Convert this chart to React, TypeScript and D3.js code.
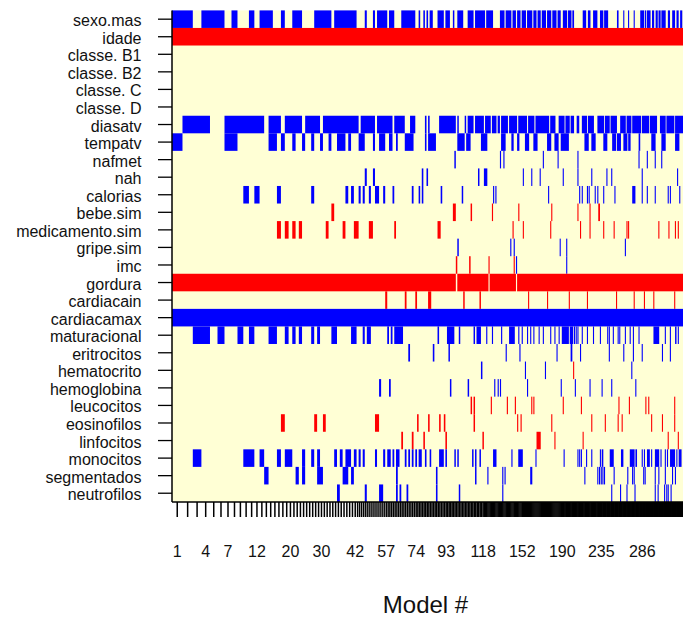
import React from 'react';
import * as d3 from 'd3';

// variables in the order they appear (top to bottom)
const variables = [
  'sexo.mas', 'idade', 'classe. B1', 'classe. B2', 'classe. C', 'classe. D',
  'diasatv', 'tempatv', 'nafmet', 'nah', 'calorias', 'bebe.sim',
  'medicamento.sim', 'gripe.sim', 'imc', 'gordura', 'cardiacain', 'cardiacamax',
  'maturacional', 'eritrocitos', 'hematocrito', 'hemoglobina', 'leucocitos',
  'eosinofilos', 'linfocitos', 'monocitos', 'segmentados', 'neutrofilos',
];

// usual sign of the coefficient (+ blue, - red)
const signs = [
  '+', '-', '+', '+', '+', '+',
  '+', '+', '+', '+', '+', '-',
  '-', '+', '-', '-', '-', '+',
  '+', '+', '+', '+', '-',
  '-', '-', '+', '+', '+',
];

// models that include each variable ("a-b" ranges, "*" = opposite sign)
const inModels = [
  '1-2 4-6 8 11 13-15 18 21-23 28-33 35-42 47 51 53-57 59-61 66-71 72-73 76 79 81 83-84 88-91 93-95 98 101-104 108-111 113-119 121-126 133-136 138-142 144-146 148-150 152-155 157-161 163-165 167-169 171-174 176-179 181-184 186-188 191-195 197-200 202-203 214-217 220-222 226-230 234-237 239-243 255-256 263 269 276 284-288 290-291 293-297 300-302 305-307 309-311 313-318 322-324 328-331 334-336 339-341',
  '1-342',
  '',
  '',
  '',
  '',
  '2-4 7-13 15-17 19-23 25-29 31-43 45-51 53-60 62-67 71-73 80 82 89-99 101 106 108-111 113-118 120-124 126-129 131-132 134-139 141-147 149-156 158-163 165-177 179-183 187-192 194-198 200-203 207-209 213-218 220-226 231-238 240-245 247-254 259-265 267-272 274-284 286-295 297-306 311-318 320-330 332-342',
  '1 7-8 15-16 18 21 24 27 30 33 36-38 40 44-46 51 54-56 59-60 63 68-72 80 82-86 101-105 107-109 117-121 134-137 143-144 148-149 155-158 163-166 176-179 183-186 189-197 216-220 224-228 238-242 249-253 255-259 263-267 269-271 282-283 299-304 313-318 332-337',
  '99 133 136 172 186 208 282 293 304 313',
  '47 51 78 81 115 119-121 153 161 169 191 208 224 242 248 286 335',
  '10 12 17 27 39 41 44 46 49 52-53 56 61 72 76 78 90 104 127 129 177 210 213 219 221 228 231 238 252 274-277 286 293 304 322 325 338',
  '34 98-99 110 126 149 180 208 222 232-233',
  '17 19 21 23 32 38 42-43 49-50 62 88-89 144 153 179 211 222 238 251 267 269 309 323 332 336',
  '101 142 145 188 195 265',
  '100 109 123 145 147* 195*',
  '1-99 101-122 124-146 148-342',
  '57 68 74 82-83 105 116 158 176 198 219 254 276 289 302 331',
  '1-342',
  '3-4 6 9 11 15-16 19 21 23 27 29 34-35 41-42 46 48-49 58 60 62-66 88 94-98 102 112 114-116 121 126 134 141-145 149 152 157 160 163 168 172 179 183 187 190-197 199-202 204 206 208 213 219 226 234 243 245 250 256 258 265 271 275 282 302-309 318 325 332-333 336',
  '70 85 95 138 150 185 200-201 211 245 263 275 286 314 325',
  '117 155 174 203* 273',
  '54 59 96 108 128 131 133 157 189 205 222 236 248 278',
  '110 112 125 139 146 161 163 191 212 257 270 291 295 331',
  '18 28 31 52-53 75 82 89 92 112 148 151 180 224 240 256 261 299 314 331',
  '66 72 79 93 118 166-169 183 214 322 336',
  '3 10-11 13 17 19-20 24 27 29 35 37 39-40 42 44 46 52 56 58-59 61 63-64 68 70 72 74 76-77 80 83 89-91 93 99 101 111 113 116 127-129 143 149-152 165 192 208 210 212 218 224 234 236-237 246-250 260-262 271-276 278-279 286 289 293-296 299 304-309 312 318 321 325-331 334 337-340',
  '14 22 24 29-30 38-39 41 63 87 113 122 135 137 160-161 216 231 233 235 237 239 251 268 274 276 288 290 304 309 318 328 332',
  '36 47 54-55 63 65 69 87 102 135 248 259 267 277 304 308 317 320 322 326',
];

// posterior model probabilities (%), as [number of models, probability]
const probRuns: [number, number][] = [
  [1, 2.05], [1, 2.02], [2, 1.68], [1, 1.47], [2, 1.37], [1, 1.17], [1, 1.14],
  [1, 1.10], [1, 1.06], [1, 1.02], [1, 0.90], [1, 0.86], [1, 0.84], [1, 0.80],
  [1, 0.78], [1, 0.76], [1, 0.74], [1, 0.72], [1, 0.65], [2, 0.63], [1, 0.61],
  [3, 0.59], [3, 0.57], [11, 0.55], [1, 0.53], [15, 0.40], [17, 0.343],
  [19, 0.308], [25, 0.289], [34, 0.224], [38, 0.206], [45, 0.169], [51, 0.157],
  [56, 0.141],
];

// model numbers that get a label under the axis
const shownLabels = [1, 4, 7, 12, 20, 30, 42, 57, 74, 93, 118, 152, 190, 235, 286];

const colors = { pos: '#0000FF', neg: '#FF0000', bg: '#FFFFD5' };

function parseSpec(spec: string) {
  const m = new Map<number, boolean>();
  spec.split(/\s+/).filter(Boolean).forEach((tok) => {
    const flip = tok.endsWith('*');
    const [a, b] = tok.replace('*', '').split('-').map(Number);
    for (let k = a; k <= (b || a); k++) m.set(k, flip);
  });
  return m;
}

const App = () => {
  const width = 683;
  const height = 619;
  const margin = { top: 10.4, left: 172, bottom: 117 };

  const postProb = probRuns.flatMap(([n, p]) => Array(n).fill(p));
  const nModels = postProb.length;
  const cum = [0, ...d3.cumsum(postProb)];

  const x = d3.scaleLinear().domain([0, d3.sum(postProb)]).range([margin.left, width]);
  const y = d3.scaleBand().domain(variables).range([margin.top, height - margin.bottom]);

  // merge consecutive models of the same colour into one rectangle
  const cells: { key: string; x0: number; x1: number; y0: number; fill: string }[] = [];
  variables.forEach((v, i) => {
    const spec = parseSpec(inModels[i]);
    let start = -1;
    let cur: string | null = null;
    for (let k = 1; k <= nModels + 1; k++) {
      let c: string | null = null;
      if (k <= nModels && spec.has(k)) {
        const positive = (signs[i] === '+') !== spec.get(k);
        c = positive ? colors.pos : colors.neg;
      }
      if (c !== cur) {
        if (cur) {
          let x0 = x(cum[start - 1]);
          let x1 = x(cum[k - 1]);
          if (x1 - x0 < 1.1) {
            const mid = (x0 + x1) / 2;
            x0 = mid - 0.55;
            x1 = mid + 0.55;
          }
          cells.push({ key: `${v}-${start}`, x0, x1, y0: y(v)!, fill: cur });
        }
        cur = c;
        start = k;
      }
    }
  });

  const mids = postProb.map((_, k) => x((cum[k] + cum[k + 1]) / 2));
  const bottom = height - margin.bottom;
  const font = 'Liberation Sans, Arial, Helvetica, sans-serif';

  return (
    <svg
      width={width}
      height={height}
      style={{ position: 'absolute', left: 0, top: 0, background: '#fff' }}
      fontFamily={font}
    >
      <rect x={margin.left} y={margin.top} width={width - margin.left} height={bottom - margin.top} fill={colors.bg} />
      {cells.map((c) => (
        <rect key={c.key} x={c.x0} y={c.y0} width={c.x1 - c.x0} height={y.bandwidth()} fill={c.fill} />
      ))}

      {/* y axis */}
      <line x1={margin.left} x2={margin.left} y1={margin.top} y2={bottom} stroke="#000" strokeWidth={1.5} />
      {variables.map((v) => {
        const cy = y(v)! + y.bandwidth() / 2;
        return (
          <g key={v}>
            <line x1={158} x2={margin.left} y1={cy} y2={cy} stroke="#000" strokeWidth={1.3} />
            <text x={141.5} y={cy + 7} textAnchor="end" fontSize={16} fill="#111">{v}</text>
          </g>
        );
      })}

      {/* x axis: one tick per model, at its midpoint */}
      <line x1={margin.left} x2={width} y1={bottom} y2={bottom} stroke="#000" strokeWidth={1.5} />
      {mids.map((m, k) => (
        <line key={k} x1={m} x2={m} y1={bottom} y2={bottom + 15} stroke="#000" strokeWidth={1.5} />
      ))}
      {shownLabels.map((n) => (
        <text key={n} x={mids[n - 1]} y={556.5} textAnchor="middle" fontSize={16} fill="#111">{n}</text>
      ))}
      <text x={(margin.left + width) / 2 - 2} y={613} textAnchor="middle" fontSize={24} fill="#111">Model #</text>
    </svg>
  );
};

export default App;
